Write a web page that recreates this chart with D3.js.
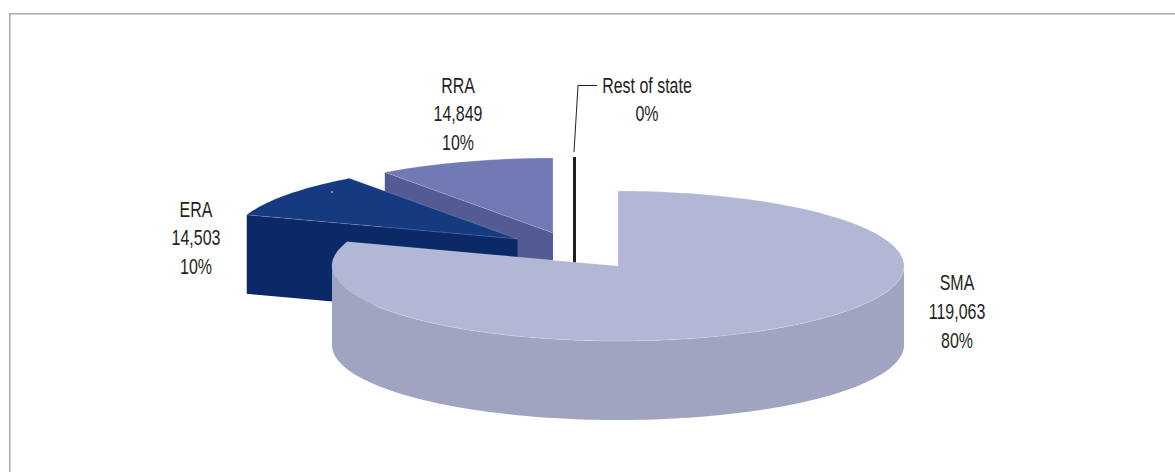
<!DOCTYPE html>
<html>
<head>
<meta charset="utf-8">
<script src="https://cdn.jsdelivr.net/npm/d3@7"></script>
<style>
html, body { margin: 0; padding: 0; background: #fff; overflow: hidden; }
text { font-family: "Liberation Sans", sans-serif; font-size: 22.5px; fill: #231f20; text-anchor: middle; }
</style>
</head>
<body>
<svg id="chart"></svg>
<script>
const categories = ["SMA", "ERA", "RRA", "Rest of state"];
const values = [119063, 14503, 14849, 0];
const percents = ["80%", "10%", "10%", "0%"];
const valueLabels = ["119,063", "14,503", "14,849", null];

const topColors = ["#b3b7d6", "#163a80", "#717ab5", "#231f20"];
const wallColors = ["#a0a4c0", "#0a2966", "#525b94", "#231f20"];

const width = 1175;
const height = 472;

// centre of the pie, ellipse radii and thickness
const cx = 618, cy = 266, rx = 286, ry = 75, depth = 79;
// how far each slice is pulled out of the pie
const explode = [[0, 0], [-100.5, -27], [-65, -33], [-43.5, -34]];
// centre x and first baseline for each label
const labelPos = [[957, 290], [196, 216.5], [458, 92.5], [647, 92.5]];
const lineGap = 28.8;
// no narrow font is installed, so the labels get squeezed sideways
const squeeze = 0.71;

const svg = d3.select("#chart").attr("width", width).attr("height", height);

// frame runs off the right and bottom of the picture
svg.append("path")
    .attr("d", `M9.75,${height} V13.75 H${width}`)
    .attr("fill", "none")
    .attr("stroke", "#a7a9ac")
    .attr("stroke-width", 1.5);

const pie = d3.pie().sort(null).startAngle(0).endAngle(2 * Math.PI);
const slices = pie(values).map((d, i) => ({ ...d, i }));

const line = d3.line();

function project(a, dx, dy, r = 1) {
    return [cx + dx + r * rx * Math.sin(a), cy + dy - r * ry * Math.cos(a)];
}

function rim(a0, a1, dx, dy) {
    const n = Math.max(2, Math.ceil(Math.abs(a1 - a0) * 40));
    return d3.range(n + 1).map(k => project(a0 + (a1 - a0) * k / n, dx, dy));
}

const shift = (pts, h) => pts.map(p => [p[0], p[1] + h]);

function drawSlice(d) {
    const [dx, dy] = explode[d.i];
    const g = svg.append("g");
    const apex = [cx + dx, cy + dy];
    const wall = wallColors[d.i];

    // the radial cut that looks toward the viewer
    const start = project(d.startAngle, dx, dy);
    if (d.i > 0) {
        g.append("path")
            .attr("d", line([apex, start, [start[0], start[1] + depth], [apex[0], apex[1] + depth]]) + "Z")
            .attr("fill", wall)
            .attr("stroke", d.i === 3 ? wall : "none")
            .attr("stroke-width", d.i === 3 ? 3 : 0);
    }

    // outer curved wall, only the front half shows
    const a0 = Math.max(d.startAngle, Math.PI / 2);
    const a1 = Math.min(d.endAngle, 3 * Math.PI / 2);
    if (a1 > a0) {
        const edge = rim(a0, a1, dx, dy);
        g.append("path")
            .attr("d", line(edge.concat(shift(edge, depth).reverse())) + "Z")
            .attr("fill", wall);
    }

    // top face, with the faint light edge along its ridge
    if (d.endAngle > d.startAngle) {
        g.append("path")
            .attr("d", line([apex].concat(rim(d.startAngle, d.endAngle, dx, dy))) + "Z")
            .attr("fill", topColors[d.i])
            .attr("stroke", "#fff")
            .attr("stroke-opacity", 0.25)
            .attr("stroke-width", 0.7);
    }
}

// back to front so that the big slice covers the others
[3, 2, 1, 0].forEach(i => drawSlice(slices[i]));

// small white speck on the ERA slice
svg.append("circle").attr("cx", 332).attr("cy", 192).attr("r", 0.8).attr("fill", "#fff");

// leader for the zero slice
svg.append("path")
    .attr("d", line([[574, 152], [578, 85.5], [597, 85.5]]))
    .attr("fill", "none")
    .attr("stroke", "#231f20")
    .attr("stroke-width", 1);

// labels
categories.forEach((name, i) => {
    const rows = [name, valueLabels[i], percents[i]].filter(r => r !== null);
    const t = svg.append("text")
        .attr("transform", `translate(${labelPos[i][0]},${labelPos[i][1]}) scale(${squeeze},1)`);
    rows.forEach((r, k) => {
        t.append("tspan")
            .attr("x", 0)
            .attr("y", k * lineGap)
            .text(r);
    });
});
</script>
</body>
</html>
